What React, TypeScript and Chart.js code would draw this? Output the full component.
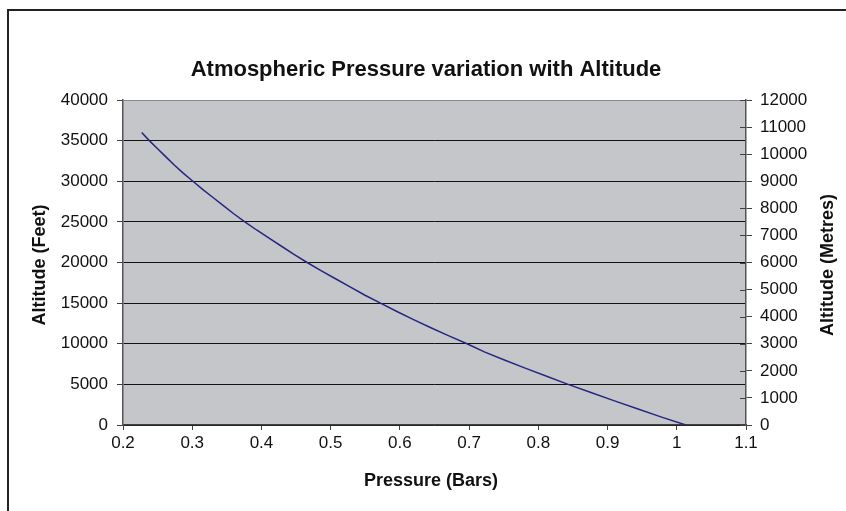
import React, { useEffect, useRef } from "react";
import { Chart, registerables } from "chart.js";

Chart.register(...registerables);

const chartTitle = "Atmospheric Pressure variation with Altitude";
const xTitle = "Pressure (Bars)";
const yLeftTitle = "Altitude (Feet)";
const yRightTitle = "Altitude (Metres)";

const altitudeFeet = [
  0, 1000, 2000, 3000, 4000, 5000, 6000, 7000, 8000, 9000, 10000, 11000, 12000,
  13000, 14000, 15000, 16000, 17000, 18000, 19000, 20000, 21000, 22000, 23000,
  24000, 25000, 26000, 27000, 28000, 29000, 30000, 31000, 32000, 33000, 34000,
  35000, 36000,
];
const pressureBars = [
  1.013, 0.977, 0.943, 0.909, 0.876, 0.843, 0.812, 0.781, 0.751, 0.722, 0.697,
  0.670, 0.644, 0.619, 0.595, 0.572, 0.549, 0.528, 0.507, 0.486, 0.466, 0.447,
  0.429, 0.411, 0.393, 0.376, 0.360, 0.345, 0.330, 0.315, 0.301, 0.287, 0.274,
  0.262, 0.250, 0.238, 0.227,
];

const xTicks = [0.2, 0.3, 0.4, 0.5, 0.6, 0.7, 0.8, 0.9, 1.0, 1.1];
const yLeftTicks = [0, 5000, 10000, 15000, 20000, 25000, 30000, 35000, 40000];
const yRightTicks = [0, 1000, 2000, 3000, 4000, 5000, 6000, 7000, 8000, 9000, 10000, 11000, 12000];

const FONT = "'Liberation Sans', Arial, sans-serif";

export default function App() {
  const ref = useRef<HTMLCanvasElement | null>(null);

  useEffect(() => {
    if (!ref.current) return;
    const decor = {
      id: "decor",
      beforeDraw(chart: any) {
        const { ctx, chartArea } = chart;
        ctx.save();
        ctx.fillStyle = "#ffffff";
        ctx.fillRect(0, 0, chart.width, chart.height);
        ctx.fillStyle = "#c5c6c9";
        ctx.fillRect(chartArea.left, chartArea.top, chartArea.right - chartArea.left, chartArea.bottom - chartArea.top);
        ctx.restore();
      },
      afterDraw(chart: any) {
        const { ctx, chartArea } = chart;
        ctx.save();
        // outer chart border
        ctx.strokeStyle = "#222222";
        ctx.lineWidth = 2;
        ctx.beginPath();
        ctx.moveTo(8, chart.height + 5);
        ctx.lineTo(8, 10);
        ctx.lineTo(chart.width + 5, 10);
        ctx.stroke();
        // inner halves of right axis ticks
        const yr = chart.scales.yRight;
        ctx.strokeStyle = "#404040";
        ctx.lineWidth = 1;
        yr.ticks.forEach((t: any) => {
          const y = Math.round(yr.getPixelForValue(t.value)) + 0.5;
          ctx.beginPath();
          ctx.moveTo(chartArea.right - 6, y);
          ctx.lineTo(chartArea.right, y);
          ctx.stroke();
        });
        // texts
        ctx.fillStyle = "#111111";
        ctx.textAlign = "center";
        ctx.textBaseline = "middle";
        ctx.font = `bold 22px ${FONT}`;
        ctx.fillText(chartTitle, 426, 70);
        ctx.font = `bold 18px ${FONT}`;
        ctx.fillText(xTitle, 431, 481);
        ctx.save();
        ctx.translate(40, 265);
        ctx.rotate(-Math.PI / 2);
        ctx.fillText(yLeftTitle, 0, 0);
        ctx.restore();
        ctx.save();
        ctx.translate(828, 265);
        ctx.rotate(-Math.PI / 2);
        ctx.fillText(yRightTitle, 0, 0);
        ctx.restore();
        ctx.restore();
      },
    };

    const chart = new Chart(ref.current, {
      type: "scatter",
      data: {
        datasets: [
          {
            label: "Altitude",
            data: pressureBars.map((p, i) => ({ x: p, y: altitudeFeet[i] })),
            showLine: true,
            borderColor: "#262682",
            borderWidth: 1.5,
            pointRadius: 0,
            pointHoverRadius: 0,
            tension: 0,
            xAxisID: "x",
            yAxisID: "y",
          },
        ],
      },
      options: {
        animation: false,
        responsive: false,
        layout: { padding: { top: 100, left: 0, right: 0, bottom: 0 } },
        plugins: { legend: { display: false }, title: { display: false }, tooltip: { enabled: false } },
        scales: {
          x: {
            type: "linear",
            position: "bottom",
            min: 0.2,
            max: 1.1,
            afterBuildTicks: (s: any) => {
              s.ticks = xTicks.map((v) => ({ value: v }));
            },
            afterFit: (s: any) => {
              s.height = 86;
            },
            grid: { drawOnChartArea: false, tickLength: 5, tickColor: "#404040" },
            border: { color: "#404040", width: 1.5 },
            ticks: {
              color: "#111111",
              font: { family: FONT, size: 17 },
              padding: 3,
              maxRotation: 0,
              autoSkip: false,
              callback: (v: any) => String(Number(Number(v).toFixed(1))),
            },
          },
          y: {
            type: "linear",
            position: "left",
            min: 0,
            max: 40000,
            afterBuildTicks: (s: any) => {
              s.ticks = yLeftTicks.map((v) => ({ value: v }));
            },
            afterFit: (s: any) => {
              s.width = 123;
            },
            grid: {
              color: (c: any) => (c.tick && c.tick.value === 40000 ? "#8a8a8a" : "#111111"),
              lineWidth: 1,
              tickLength: 6,
              tickColor: "#404040",
            },
            border: { color: "#555555", width: 1.5 },
            ticks: {
              color: "#111111",
              font: { family: FONT, size: 17 },
              padding: 9,
              autoSkip: false,
              callback: (v: any) => String(v),
            },
          },
          yRight: {
            type: "linear",
            position: "right",
            min: 0,
            max: 12000,
            afterBuildTicks: (s: any) => {
              s.ticks = yRightTicks.map((v) => ({ value: v }));
            },
            afterFit: (s: any) => {
              s.width = 100;
            },
            grid: { drawOnChartArea: false, tickLength: 6, tickColor: "#404040" },
            border: { color: "#555555", width: 1.5 },
            ticks: {
              color: "#111111",
              font: { family: FONT, size: 17 },
              padding: 8,
              autoSkip: false,
              callback: (v: any) => String(v),
            },
          },
        },
      },
      plugins: [decor],
    } as any);
    return () => chart.destroy();
  }, []);

  return (
    <div style={{ position: "fixed", left: 0, top: 0, width: 846, height: 511 }}>
      <canvas ref={ref} width={846} height={511} style={{ width: 846, height: 511, display: "block" }} />
    </div>
  );
}
